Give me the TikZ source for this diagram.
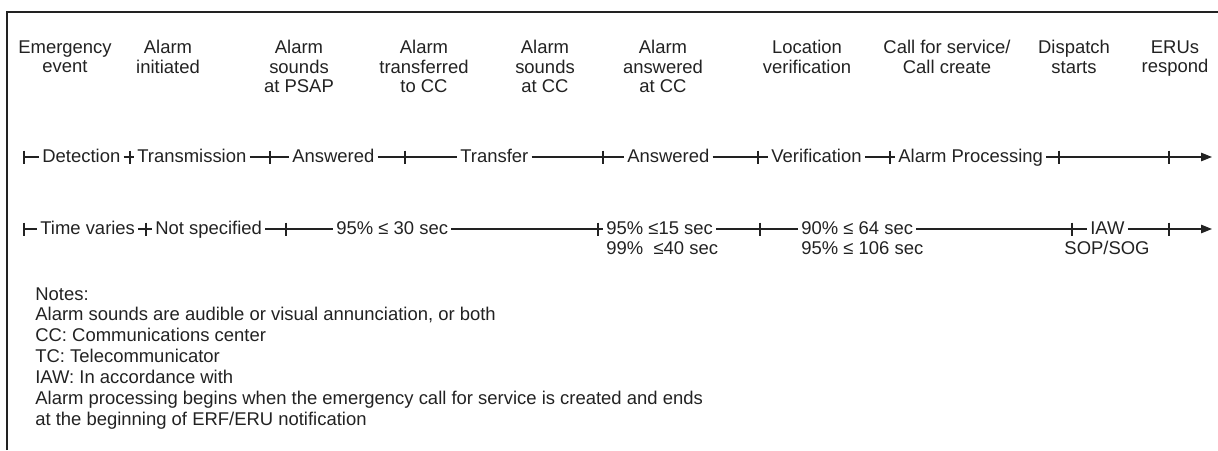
\documentclass[tikz,border=0pt]{standalone}
\usepackage{fontspec}
\setmainfont{Liberation Sans}
\usetikzlibrary{arrows.meta}
\definecolor{ink}{HTML}{222222}

\begin{document}
\begin{tikzpicture}[x=0.02cm, y=-0.02cm,
every node/.style={text=ink, font=\fontsize{10.5}{11.06}\selectfont},
evt/.style={anchor=north, align=center, inner sep=0pt},
lbl/.style={anchor=west, inner xsep=0.06cm, inner ysep=0pt, text height=0.75em, text depth=0.15em},
seg/.style={draw=ink, line width=0.7pt},
tip/.style={-{Triangle[length=0.22cm, width=0.17cm]}},
frame/.style={draw=ink, line width=1.2pt}]

\useasboundingbox (0,0) rectangle (1218,450);
\draw[frame] (7,450) -- (7,12) -- (1218,12);

\node[evt] (emg) at (65,40) {Emergency\\event};
\node[evt] (init) at (168,40) {Alarm\\initiated};
\node[evt] (psap) at (299,40) {Alarm\\sounds\\at PSAP};
\node[evt] (xfer) at (424,40) {Alarm\\transferred\\to CC};
\node[evt] (sndcc) at (545,40) {Alarm\\sounds\\at CC};
\node[evt] (anscc) at (663,40) {Alarm\\answered\\at CC};
\node[evt] (locv) at (807,40) {Location\\verification};
\node[evt] (cfs) at (947,40) {Call for service/\\Call create};
\node[evt] (disp) at (1074,40) {Dispatch\\starts};
\node[evt] (eru) at (1175,40) {ERUs\\respond};

\coordinate (p0) at (24,157);
\node[lbl] (det) at (39,157) {Detection};
\coordinate (p1) at (130,157);
\node[lbl] (trans) at (134,157) {Transmission};
\coordinate (p2) at (270,157);
\node[lbl] (ans1) at (289,157) {Answered};
\coordinate (p3) at (405,157);
\node[lbl] (tfr) at (457,157) {Transfer};
\coordinate (p4) at (603,157);
\node[lbl] (ans2) at (624,157) {Answered};
\coordinate (p5) at (758,157);
\node[lbl] (ver) at (768,157) {Verification};
\coordinate (p6) at (890,157);
\node[lbl] (proc) at (895,157) {Alarm Processing};
\coordinate (p7) at (1059,157);
\coordinate (p8) at (1169,157);
\coordinate (pend) at (1212,157);

\draw[seg] (p0) -- (det);
\draw[seg] (det) -- (p1) -- (trans);
\draw[seg] (trans) -- (p2) -- (ans1);
\draw[seg] (ans1) -- (p3) -- (tfr);
\draw[seg] (tfr) -- (p4) -- (ans2);
\draw[seg] (ans2) -- (p5) -- (ver);
\draw[seg] (ver) -- (p6) -- (proc);
\draw[seg, tip] (proc) -- (p7) -- (p8) -- (pend);

\coordinate (q0) at (24,229);
\node[lbl] (tv) at (37,229) {Time varies};
\coordinate (q1) at (146,229);
\node[lbl] (ns) at (152,229) {Not specified};
\coordinate (q2) at (286,229);
\node[lbl] (s30) at (333,229) {95\% ≤ 30 sec};
\coordinate (q3) at (598,229);
\node[lbl] (s15) at (603,229) {95\% ≤15 sec};
\node[lbl] (s40) at (603,249) {99\%\ \ ≤40 sec};
\coordinate (q4) at (760,229);
\node[lbl] (s64) at (798,229) {90\% ≤ 64 sec};
\node[lbl] (s106) at (798,249) {95\% ≤ 106 sec};
\coordinate (q5) at (1072,229);
\node[lbl] (iaw) at (1087,229) {IAW};
\node[lbl, anchor=center] (sop) at (1107,249) {SOP/SOG};
\coordinate (q6) at (1169,229);
\coordinate (qend) at (1212,229);

\draw[seg] (q0) -- (tv);
\draw[seg] (tv) -- (q1) -- (ns);
\draw[seg] (ns) -- (q2) -- (s30);
\draw[seg] (s30) -- (q3) -- (s15);
\draw[seg] (s15) -- (q4) -- (s64);
\draw[seg] (s64) -- (q5) -- (iaw);
\draw[seg, tip] (iaw) -- (q6) -- (qend);

\foreach \c in {p0,p1,p2,p3,p4,p5,p6,p7,p8,q0,q1,q2,q3,q4,q5,q6}
  \draw[seg] ([yshift=0.13cm]\c) -- ([yshift=-0.13cm]\c);

\node[anchor=north west, align=left, inner sep=0pt, font=\fontsize{10.5}{11.9}\selectfont] (notes) at (35,287)
  {Notes:\\
   Alarm sounds are audible or visual annunciation, or both\\
   CC: Communications center\\
   TC: Telecommunicator\\
   IAW: In accordance with\\
   Alarm processing begins when the emergency call for service is created and ends\\
   at the beginning of ERF/ERU notification};

\end{tikzpicture}
\end{document}
